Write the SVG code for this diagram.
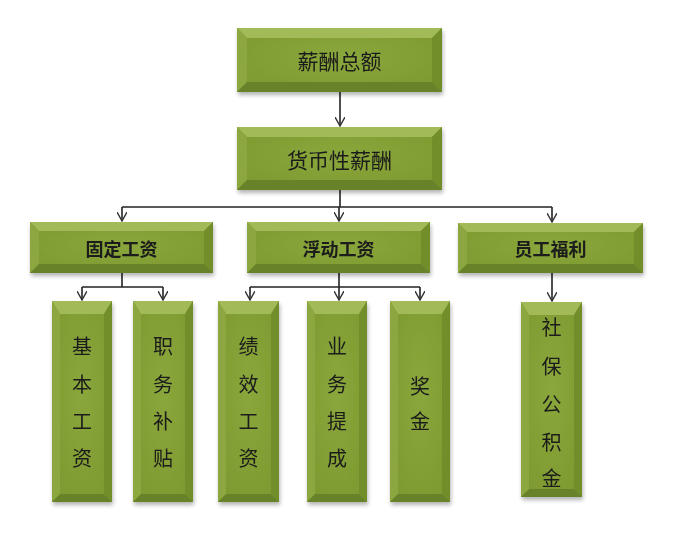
<svg xmlns="http://www.w3.org/2000/svg" width="674" height="540" viewBox="0 0 674 540">
<defs>
<radialGradient id="face" cx="50%" cy="45%" r="70%">
<stop offset="0" stop-color="#8aa73c"/>
<stop offset="1" stop-color="#7c982f"/>
</radialGradient>
<filter id="sh" x="-20%" y="-20%" width="140%" height="140%">
<feGaussianBlur in="SourceAlpha" stdDeviation="2"/>
<feOffset dx="1" dy="3"/>
<feComponentTransfer><feFuncA type="linear" slope="0.3"/></feComponentTransfer>
<feMerge><feMergeNode/><feMergeNode in="SourceGraphic"/></feMerge>
</filter>
<marker id="arr" viewBox="0 0 10 10" refX="9" refY="5" markerWidth="10" markerHeight="10" markerUnits="userSpaceOnUse" orient="auto">
<path d="M0,0 L9,5 L0,10" fill="none" stroke="#333" stroke-width="1.4"/>
</marker>
</defs>
<style>
.face{fill:url(#face)}
.bt{fill:#a2bb58}
.bl{fill:#8ca740}
.br{fill:#728e2b}
.bb{fill:#67822a}
.box{filter:url(#sh)}
.t0{font-family:"Noto Sans CJK SC","Noto Sans",sans-serif;font-size:21px;fill:#1a1a1a;text-anchor:middle;dominant-baseline:central}
.t1{font-family:"Noto Sans CJK SC","Noto Sans",sans-serif;font-size:18px;font-weight:bold;fill:#1a1a1a;text-anchor:middle;dominant-baseline:central}
.t2{font-family:"Noto Sans CJK SC","Noto Sans",sans-serif;font-size:20px;fill:#1a1a1a;text-anchor:middle;dominant-baseline:central}
.ln{fill:none;stroke:#222;stroke-width:1.6}
.ar{fill:none;stroke:#222;stroke-width:1.6;marker-end:url(#arr)}
</style>
<rect width="674" height="540" fill="#ffffff"/>

<g id="connectors">
<line class="ar" x1="340" y1="92" x2="340" y2="126"/>
<line class="ln" x1="340" y1="190" x2="340" y2="207"/>
<line class="ln" x1="122" y1="207" x2="552" y2="207"/>
<line class="ar" x1="122" y1="207" x2="122" y2="221"/>
<line class="ar" x1="339" y1="207" x2="339" y2="221"/>
<line class="ar" x1="552" y1="207" x2="552" y2="222"/>
<line class="ln" x1="122" y1="273" x2="122" y2="287"/>
<line class="ln" x1="82" y1="287" x2="163" y2="287"/>
<line class="ar" x1="82" y1="287" x2="82" y2="300"/>
<line class="ar" x1="163" y1="287" x2="163" y2="300"/>
<line class="ln" x1="339" y1="273" x2="339" y2="287"/>
<line class="ln" x1="250" y1="287" x2="420" y2="287"/>
<line class="ar" x1="250" y1="287" x2="250" y2="300"/>
<line class="ar" x1="339" y1="287" x2="339" y2="300"/>
<line class="ar" x1="420" y1="287" x2="420" y2="300"/>
<line class="ar" x1="552" y1="273" x2="552" y2="301"/>
</g>

<g id="n0" class="box">
<rect class="face" x="237" y="28" width="205" height="64"/>
<polygon class="bt" points="237,28 442,28 432,38 247,38"/>
<polygon class="bl" points="237,28 247,38 247,82 237,92"/>
<polygon class="br" points="442,28 442,92 432,82 432,38"/>
<polygon class="bb" points="237,92 247,82 432,82 442,92"/>
<text class="t0" x="339.5" y="60">薪酬总额</text>
</g>

<g id="n1" class="box">
<rect class="face" x="237" y="127" width="205" height="63"/>
<polygon class="bt" points="237,127 442,127 432,137 247,137"/>
<polygon class="bl" points="237,127 247,137 247,180 237,190"/>
<polygon class="br" points="442,127 442,190 432,180 432,137"/>
<polygon class="bb" points="237,190 247,180 432,180 442,190"/>
<text class="t0" x="339.5" y="158.5">货币性薪酬</text>
</g>

<g id="n2" class="box">
<rect class="face" x="30" y="222" width="183" height="51"/>
<polygon class="bt" points="30,222 213,222 204,231 39,231"/>
<polygon class="bl" points="30,222 39,231 39,264 30,273"/>
<polygon class="br" points="213,222 213,273 204,264 204,231"/>
<polygon class="bb" points="30,273 39,264 204,264 213,273"/>
<text class="t1" x="121.5" y="247.5">固定工资</text>
</g>

<g id="n3" class="box">
<rect class="face" x="247" y="222" width="183" height="51"/>
<polygon class="bt" points="247,222 430,222 421,231 256,231"/>
<polygon class="bl" points="247,222 256,231 256,264 247,273"/>
<polygon class="br" points="430,222 430,273 421,264 421,231"/>
<polygon class="bb" points="247,273 256,264 421,264 430,273"/>
<text class="t1" x="338.5" y="247.5">浮动工资</text>
</g>

<g id="n4" class="box">
<rect class="face" x="458" y="223" width="185" height="50"/>
<polygon class="bt" points="458,223 643,223 634,232 467,232"/>
<polygon class="bl" points="458,223 467,232 467,264 458,273"/>
<polygon class="br" points="643,223 643,273 634,264 634,232"/>
<polygon class="bb" points="458,273 467,264 634,264 643,273"/>
<text class="t1" x="550.5" y="248">员工福利</text>
</g>

<g id="l1" class="box">
<rect class="face" x="52" y="301" width="60" height="201"/>
<polygon class="bt" points="52,301 112,301 104,314 60,314"/>
<polygon class="bl" points="52,301 60,314 60,494 52,502"/>
<polygon class="br" points="112,301 112,502 104,494 104,314"/>
<polygon class="bb" points="52,502 60,494 104,494 112,502"/>
<text class="t2" x="82" y="345">基</text>
<text class="t2" x="82" y="383">本</text>
<text class="t2" x="82" y="420">工</text>
<text class="t2" x="82" y="457">资</text>
</g>

<g id="l2" class="box">
<rect class="face" x="133" y="301" width="60" height="201"/>
<polygon class="bt" points="133,301 193,301 185,314 141,314"/>
<polygon class="bl" points="133,301 141,314 141,494 133,502"/>
<polygon class="br" points="193,301 193,502 185,494 185,314"/>
<polygon class="bb" points="133,502 141,494 185,494 193,502"/>
<text class="t2" x="163" y="345">职</text>
<text class="t2" x="163" y="383">务</text>
<text class="t2" x="163" y="420">补</text>
<text class="t2" x="163" y="457">贴</text>
</g>

<g id="l3" class="box">
<rect class="face" x="218" y="301" width="61" height="201"/>
<polygon class="bt" points="218,301 279,301 271,314 226,314"/>
<polygon class="bl" points="218,301 226,314 226,494 218,502"/>
<polygon class="br" points="279,301 279,502 271,494 271,314"/>
<polygon class="bb" points="218,502 226,494 271,494 279,502"/>
<text class="t2" x="248.5" y="345">绩</text>
<text class="t2" x="248.5" y="383">效</text>
<text class="t2" x="248.5" y="420">工</text>
<text class="t2" x="248.5" y="457">资</text>
</g>

<g id="l4" class="box">
<rect class="face" x="307" y="301" width="60" height="201"/>
<polygon class="bt" points="307,301 367,301 359,314 315,314"/>
<polygon class="bl" points="307,301 315,314 315,494 307,502"/>
<polygon class="br" points="367,301 367,502 359,494 359,314"/>
<polygon class="bb" points="307,502 315,494 359,494 367,502"/>
<text class="t2" x="337" y="345">业</text>
<text class="t2" x="337" y="383">务</text>
<text class="t2" x="337" y="420">提</text>
<text class="t2" x="337" y="457">成</text>
</g>

<g id="l5" class="box">
<rect class="face" x="390" y="301" width="60" height="201"/>
<polygon class="bt" points="390,301 450,301 442,314 398,314"/>
<polygon class="bl" points="390,301 398,314 398,494 390,502"/>
<polygon class="br" points="450,301 450,502 442,494 442,314"/>
<polygon class="bb" points="390,502 398,494 442,494 450,502"/>
<text class="t2" x="420" y="385">奖</text>
<text class="t2" x="420" y="420">金</text>
</g>

<g id="l6" class="box">
<rect class="face" x="521" y="302" width="61" height="195"/>
<polygon class="bt" points="521,302 582,302 574,315 529,315"/>
<polygon class="bl" points="521,302 529,315 529,489 521,497"/>
<polygon class="br" points="582,302 582,497 574,489 574,315"/>
<polygon class="bb" points="521,497 529,489 574,489 582,497"/>
<text class="t2" x="551.5" y="326">社</text>
<text class="t2" x="551.5" y="365">保</text>
<text class="t2" x="551.5" y="403">公</text>
<text class="t2" x="551.5" y="441">积</text>
<text class="t2" x="551.5" y="477">金</text>
</g>
</svg>
